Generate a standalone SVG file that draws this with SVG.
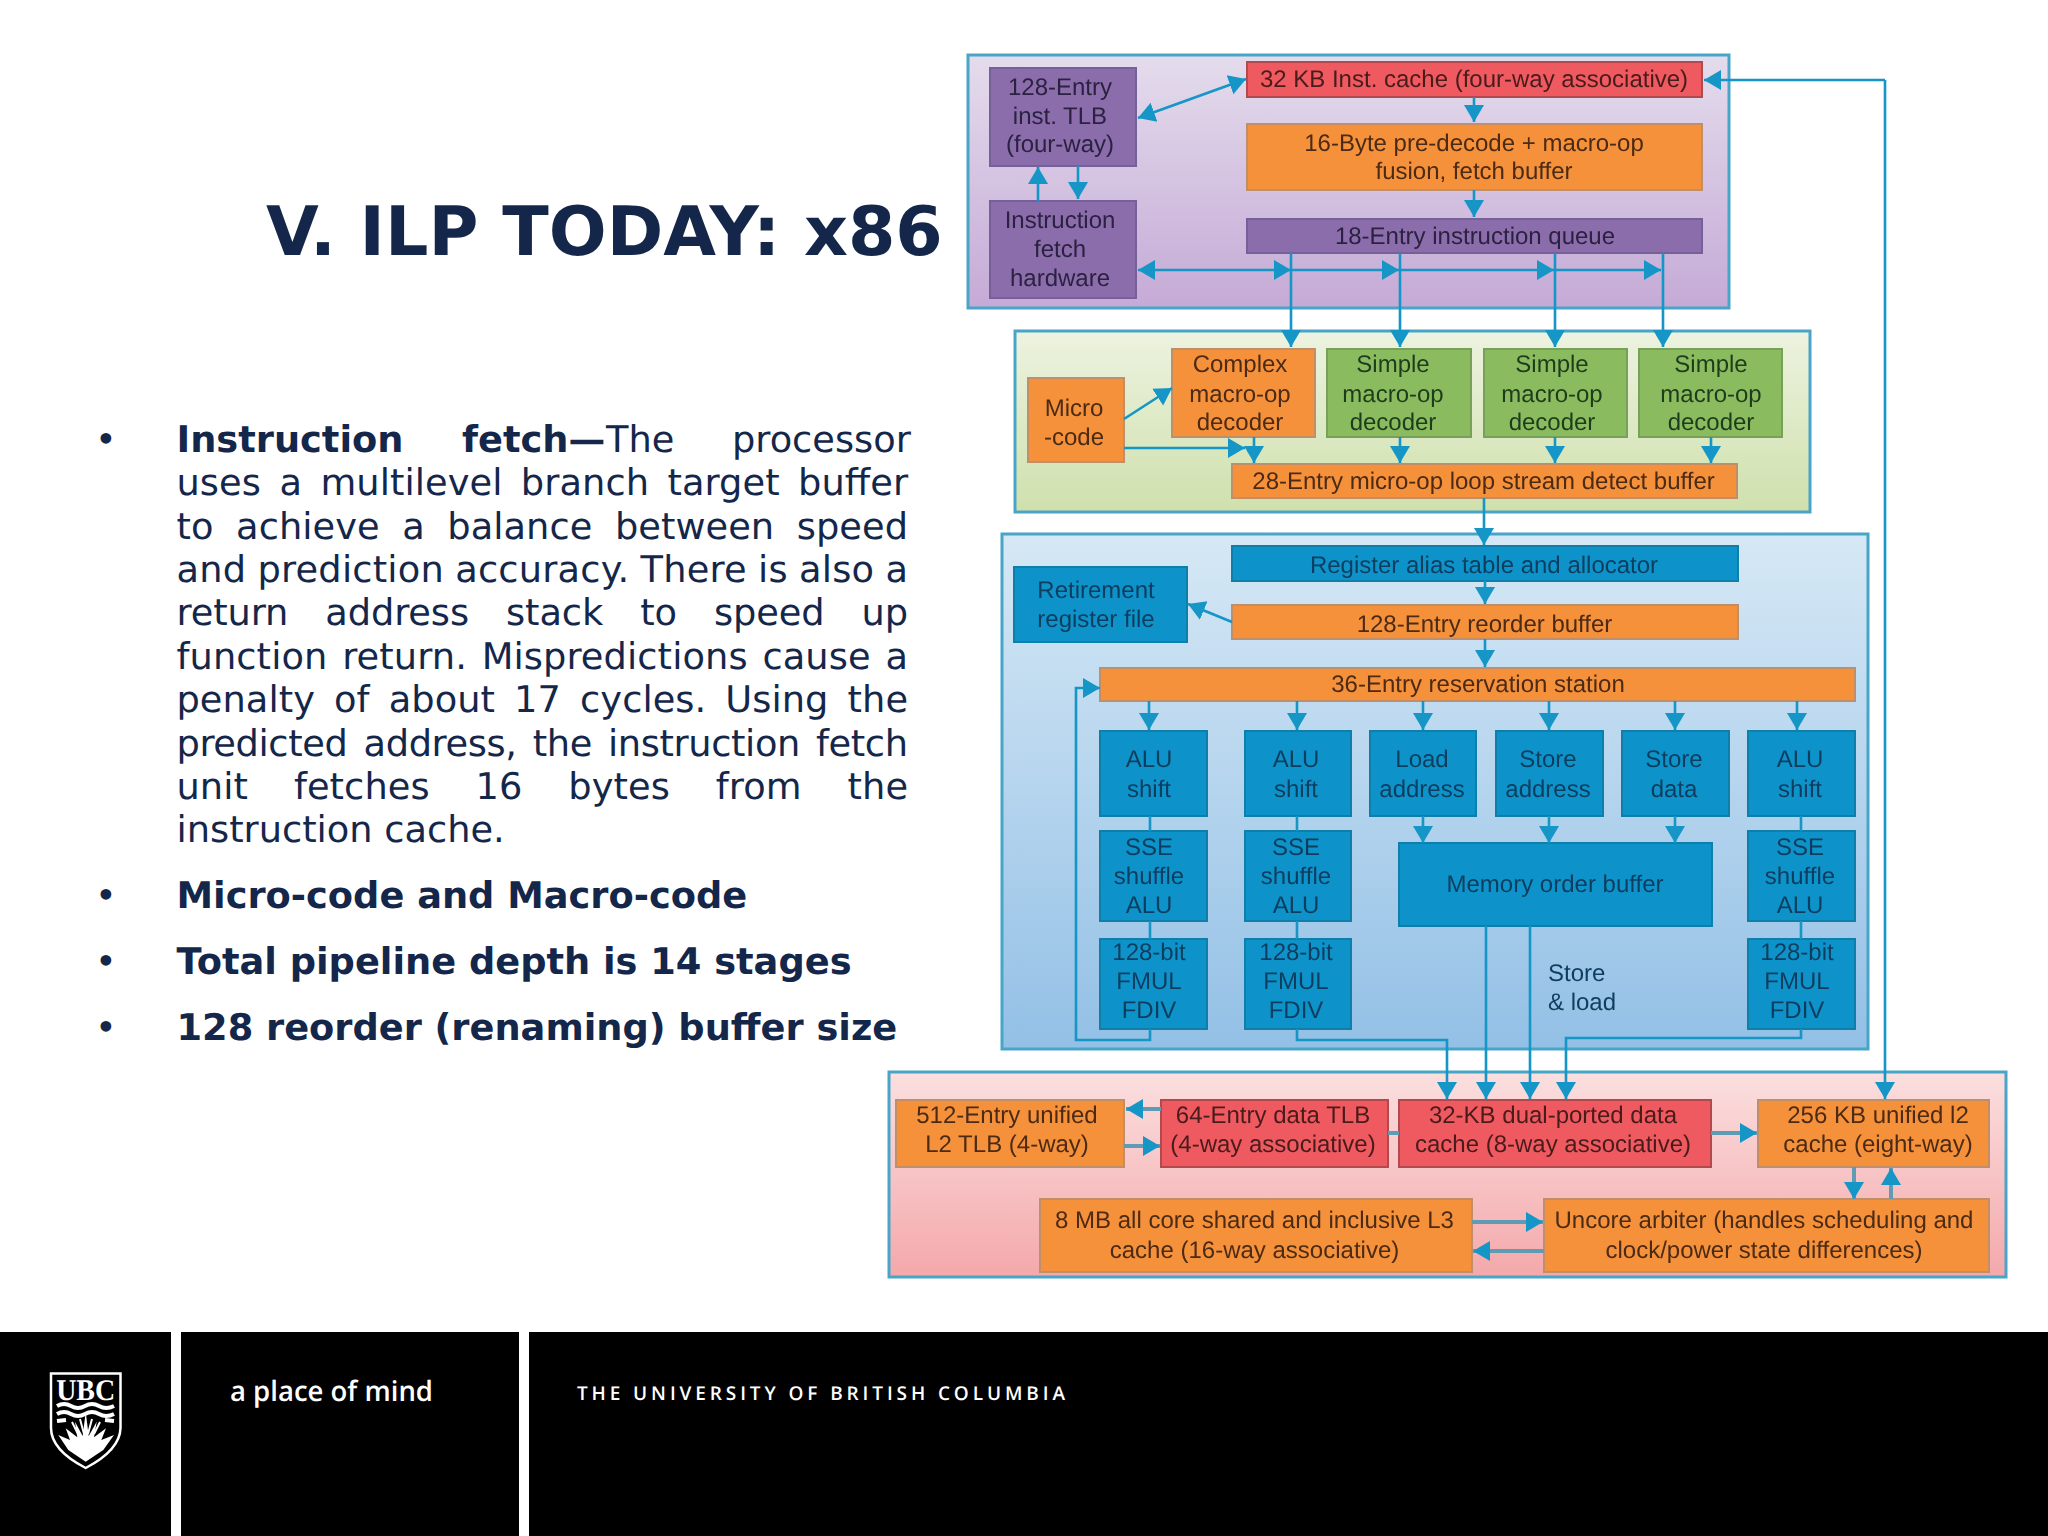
<svg xmlns="http://www.w3.org/2000/svg" width="2048" height="1536" viewBox="0 0 2048 1536">
<style>
text{text-rendering:geometricPrecision}
.grp{stroke:#48a5c8;stroke-width:3}
.b{stroke-width:2}
.o{fill:#f6913a;stroke:#c08e68}
.r{fill:#ee5a5e;stroke:#b2484f}
.p{fill:#8c6dac;stroke:#75609a}
.g{fill:#8bbb5e;stroke:#78a05a}
.u{fill:#0a93c9;stroke:#0f7fa8}
.t{font-family:"Liberation Sans",Arial,sans-serif;font-size:24px;text-anchor:middle}
.to{fill:#4b2a14}.tr{fill:#4a1a1e}.tp{fill:#2a2140}.tg{fill:#1f3d1c}.tu{fill:#0f3d5e}
.l{text-anchor:start}
.c{fill:none;stroke:#1296c6;stroke-width:2.6}
.d{fill:none;stroke:#5f9cb4;stroke-width:4}
.body{font-family:"DejaVu Sans",sans-serif;font-size:36.75px;fill:#14274a}
.bold{font-weight:bold}
</style>
<defs>
<linearGradient id="g1" x1="0" y1="0" x2="0" y2="1"><stop offset="0" stop-color="#e4dcec"/><stop offset="1" stop-color="#c5aad6"/></linearGradient>
<linearGradient id="g2" x1="0" y1="0" x2="0" y2="1"><stop offset="0" stop-color="#edf3e0"/><stop offset="1" stop-color="#cfe0ac"/></linearGradient>
<linearGradient id="g3" x1="0" y1="0" x2="0" y2="1"><stop offset="0" stop-color="#d6e8f5"/><stop offset="1" stop-color="#93c0e6"/></linearGradient>
<linearGradient id="g4" x1="0" y1="0" x2="0" y2="1"><stop offset="0" stop-color="#fbdfdf"/><stop offset="1" stop-color="#f4a8ab"/></linearGradient>
<marker id="a" markerUnits="userSpaceOnUse" markerWidth="18" markerHeight="22" refX="17" refY="11" orient="auto-start-reverse"><path d="M0,1 L17,11 L0,21 Z" fill="#1296c6"/></marker>
<filter id="soft" filterUnits="userSpaceOnUse" x="860" y="30" width="1180" height="1270"><feGaussianBlur stdDeviation="0.6"/></filter>
</defs>
<rect width="2048" height="1536" fill="#fff"/>

<g id="title"><text x="266" y="255" font-family="DejaVu Sans,sans-serif" font-weight="bold" font-size="68.2" fill="#14274a">V. ILP TODAY: x86</text></g>

<g id="bullets" class="body">
<text x="95" y="452">•</text>
<text x="176.5" y="452"><tspan class="bold">Instruction</tspan><tspan class="bold" x="462">fetch—</tspan><tspan x="606">The</tspan><tspan x="732">processor</tspan></text>
<text x="176.5" y="495" word-spacing="6.64" textLength="731.5">uses a multilevel branch target buffer</text>
<text x="176.5" y="539" word-spacing="10.86" textLength="731.5">to achieve a balance between speed</text>
<text x="176.5" y="582" word-spacing="-0.7" textLength="731.5">and prediction accuracy. There is also a</text>
<text x="176.5" y="625" word-spacing="25.5" textLength="731.5">return address stack to speed up</text>
<text x="176.5" y="669" word-spacing="3" textLength="731.5">function return. Mispredictions cause a</text>
<text x="176.5" y="712" word-spacing="7.4" textLength="731.5">penalty of about 17 cycles. Using the</text>
<text x="176.5" y="756" word-spacing="4.85" textLength="731.5">predicted address, the instruction fetch</text>
<text x="176.5" y="799" word-spacing="34.1" textLength="731.5">unit fetches 16 bytes from the</text>
<text x="176.5" y="842">instruction cache.</text>
<text x="95" y="908">•</text>
<text x="176.5" y="908" class="bold">Micro-code and Macro-code</text>
<text x="95" y="974">•</text>
<text x="176.5" y="974" class="bold">Total pipeline depth is 14 stages</text>
<text x="95" y="1040">•</text>
<text x="176.5" y="1040" class="bold">128 reorder (renaming) buffer size</text>
</g>

<g id="diagram" filter="url(#soft)">
<g id="group-fetch"><rect class="grp" x="968" y="55" width="761" height="253" fill="url(#g1)"/></g>
<g id="group-decode"><rect class="grp" x="1015" y="331" width="795" height="181" fill="url(#g2)"/></g>
<g id="group-exec"><rect class="grp" x="1002" y="534" width="866" height="515" fill="url(#g3)"/></g>
<g id="group-memory"><rect class="grp" x="889" y="1072" width="1117" height="205" fill="url(#g4)"/></g>

<g id="n-tlb"><rect class="b p" x="990" y="68" width="146" height="98"/><text class="t tp"><tspan x="1060" y="95">128-Entry</tspan><tspan x="1060" y="123.5">inst. TLB</tspan><tspan x="1060" y="152">(four-way)</tspan></text></g>
<g id="n-ifetch"><rect class="b p" x="990" y="201" width="146" height="97"/><text class="t tp"><tspan x="1060" y="228">Instruction</tspan><tspan x="1060" y="257">fetch</tspan><tspan x="1060" y="286">hardware</tspan></text></g>
<g id="n-icache"><rect class="b r" x="1247" y="62" width="455" height="35"/><text class="t tr" x="1474" y="87">32 KB Inst. cache (four-way associative)</text></g>
<g id="n-predecode"><rect class="b o" x="1247" y="124" width="455" height="66"/><text class="t to"><tspan x="1474" y="151">16-Byte pre-decode + macro-op</tspan><tspan x="1474" y="179">fusion, fetch buffer</tspan></text></g>
<g id="n-iqueue"><rect class="b p" x="1247" y="219" width="455" height="34"/><text class="t tp" x="1475" y="244">18-Entry instruction queue</text></g>

<g id="n-complex"><rect class="b o" x="1172" y="349" width="143" height="88"/><text class="t to"><tspan x="1240" y="372">Complex</tspan><tspan x="1240" y="402">macro-op</tspan><tspan x="1240" y="430">decoder</tspan></text></g>
<g id="n-simple1"><rect class="b g" x="1327" y="349" width="144" height="88"/><text class="t tg"><tspan x="1393" y="372">Simple</tspan><tspan x="1393" y="402">macro-op</tspan><tspan x="1393" y="430">decoder</tspan></text></g>
<g id="n-simple2"><rect class="b g" x="1484" y="349" width="143" height="88"/><text class="t tg"><tspan x="1552" y="372">Simple</tspan><tspan x="1552" y="402">macro-op</tspan><tspan x="1552" y="430">decoder</tspan></text></g>
<g id="n-simple3"><rect class="b g" x="1639" y="349" width="143" height="88"/><text class="t tg"><tspan x="1711" y="372">Simple</tspan><tspan x="1711" y="402">macro-op</tspan><tspan x="1711" y="430">decoder</tspan></text></g>
<g id="n-microcode"><rect class="b o" x="1028" y="378" width="96" height="84"/><text class="t to"><tspan x="1074" y="416">Micro</tspan><tspan x="1074" y="445">-code</tspan></text></g>
<g id="n-loop"><rect class="b o" x="1232" y="464" width="505" height="34"/><text class="t to" x="1483.5" y="489">28-Entry micro-op loop stream detect buffer</text></g>

<g id="n-rat"><rect class="b u" x="1232" y="546" width="506" height="35"/><text class="t tu" x="1484" y="573">Register alias table and allocator</text></g>
<g id="n-retire"><rect class="b u" x="1014" y="567" width="173" height="75"/><text class="t tu"><tspan x="1096" y="598">Retirement</tspan><tspan x="1096" y="627">register file</tspan></text></g>
<g id="n-rob"><rect class="b o" x="1232" y="605" width="506" height="34"/><text class="t to" x="1484.5" y="632">128-Entry reorder buffer</text></g>
<g id="n-rs"><rect class="b o" x="1100" y="668" width="755" height="33"/><text class="t to" x="1478" y="692">36-Entry reservation station</text></g>

<g id="n-alu1"><rect class="b u" x="1100" y="731" width="107" height="85"/><text class="t tu"><tspan x="1149" y="767">ALU</tspan><tspan x="1149" y="797">shift</tspan></text></g>
<g id="n-alu2"><rect class="b u" x="1245" y="731" width="106" height="85"/><text class="t tu"><tspan x="1296" y="767">ALU</tspan><tspan x="1296" y="797">shift</tspan></text></g>
<g id="n-load"><rect class="b u" x="1370" y="731" width="106" height="85"/><text class="t tu"><tspan x="1422" y="767">Load</tspan><tspan x="1422" y="797">address</tspan></text></g>
<g id="n-storeaddr"><rect class="b u" x="1496" y="731" width="107" height="85"/><text class="t tu"><tspan x="1548" y="767">Store</tspan><tspan x="1548" y="797">address</tspan></text></g>
<g id="n-storedata"><rect class="b u" x="1622" y="731" width="107" height="85"/><text class="t tu"><tspan x="1674" y="767">Store</tspan><tspan x="1674" y="797">data</tspan></text></g>
<g id="n-alu3"><rect class="b u" x="1748" y="731" width="107" height="85"/><text class="t tu"><tspan x="1800" y="767">ALU</tspan><tspan x="1800" y="797">shift</tspan></text></g>

<g id="n-sse1"><rect class="b u" x="1100" y="831" width="107" height="90"/><text class="t tu"><tspan x="1149" y="855">SSE</tspan><tspan x="1149" y="884">shuffle</tspan><tspan x="1149" y="913">ALU</tspan></text></g>
<g id="n-sse2"><rect class="b u" x="1245" y="831" width="106" height="90"/><text class="t tu"><tspan x="1296" y="855">SSE</tspan><tspan x="1296" y="884">shuffle</tspan><tspan x="1296" y="913">ALU</tspan></text></g>
<g id="n-sse3"><rect class="b u" x="1748" y="831" width="107" height="90"/><text class="t tu"><tspan x="1800" y="855">SSE</tspan><tspan x="1800" y="884">shuffle</tspan><tspan x="1800" y="913">ALU</tspan></text></g>
<g id="n-fmul1"><rect class="b u" x="1100" y="939" width="107" height="90"/><text class="t tu"><tspan x="1149" y="960">128-bit</tspan><tspan x="1149" y="989">FMUL</tspan><tspan x="1149" y="1018">FDIV</tspan></text></g>
<g id="n-fmul2"><rect class="b u" x="1245" y="939" width="106" height="90"/><text class="t tu"><tspan x="1296" y="960">128-bit</tspan><tspan x="1296" y="989">FMUL</tspan><tspan x="1296" y="1018">FDIV</tspan></text></g>
<g id="n-fmul3"><rect class="b u" x="1748" y="939" width="107" height="90"/><text class="t tu"><tspan x="1797" y="960">128-bit</tspan><tspan x="1797" y="989">FMUL</tspan><tspan x="1797" y="1018">FDIV</tspan></text></g>
<g id="n-mob"><rect class="b u" x="1399" y="843" width="313" height="83"/><text class="t tu" x="1555" y="892">Memory order buffer</text></g>
<g id="l-storeload"><text class="t tu l"><tspan x="1548" y="981">Store</tspan><tspan x="1548" y="1010">&amp; load</tspan></text></g>

<g id="n-l2tlb"><rect class="b o" x="896" y="1100" width="228" height="67"/><text class="t to"><tspan x="1007" y="1123">512-Entry unified</tspan><tspan x="1007" y="1152">L2 TLB (4-way)</tspan></text></g>
<g id="n-dtlb"><rect class="b r" x="1161" y="1100" width="227" height="67"/><text class="t tr"><tspan x="1273" y="1123">64-Entry data TLB</tspan><tspan x="1273" y="1152">(4-way associative)</tspan></text></g>
<g id="n-dcache"><rect class="b r" x="1399" y="1100" width="312" height="67"/><text class="t tr"><tspan x="1553" y="1123">32-KB dual-ported data</tspan><tspan x="1553" y="1152">cache (8-way associative)</tspan></text></g>
<g id="n-l2"><rect class="b o" x="1758" y="1100" width="231" height="67"/><text class="t to"><tspan x="1878" y="1123">256 KB unified l2</tspan><tspan x="1878" y="1152">cache (eight-way)</tspan></text></g>
<g id="n-l3"><rect class="b o" x="1040" y="1199" width="432" height="73"/><text class="t to"><tspan x="1254.5" y="1228">8 MB all core shared and inclusive L3</tspan><tspan x="1254.5" y="1258">cache (16-way associative)</tspan></text></g>
<g id="n-uncore"><rect class="b o" x="1544" y="1199" width="445" height="73"/><text class="t to"><tspan x="1764" y="1228">Uncore arbiter (handles scheduling and</tspan><tspan x="1764" y="1258">clock/power state differences)</tspan></text></g>

<g id="connectors">
<path class="c" marker-end="url(#a)" d="M1885,80H1704"/>
<path class="c" marker-end="url(#a)" d="M1885,80V1099"/>
<path class="c" marker-start="url(#a)" marker-end="url(#a)" d="M1138,118L1246,79"/>
<path class="c" marker-end="url(#a)" d="M1474,97V122"/>
<path class="c" marker-end="url(#a)" d="M1474,190V217"/>
<path class="c" marker-end="url(#a)" d="M1038,201V167"/>
<path class="c" marker-end="url(#a)" d="M1078,166V199"/>
<path class="c" marker-start="url(#a)" marker-end="url(#a)" d="M1138,270H1291"/>
<path class="c" marker-end="url(#a)" d="M1291,270H1399"/>
<path class="c" marker-end="url(#a)" d="M1399,270H1554"/>
<path class="c" marker-end="url(#a)" d="M1554,270H1661"/>
<path class="c" marker-end="url(#a)" d="M1291,253V347"/>
<path class="c" marker-end="url(#a)" d="M1400,253V347"/>
<path class="c" marker-end="url(#a)" d="M1555,253V347"/>
<path class="c" marker-end="url(#a)" d="M1663,253V347"/>
<path class="c" marker-end="url(#a)" d="M1124,419L1172,388"/>
<path class="c" marker-end="url(#a)" d="M1124,448H1245"/>
<path class="c" marker-end="url(#a)" d="M1254,437V463"/>
<path class="c" marker-end="url(#a)" d="M1400,437V463"/>
<path class="c" marker-end="url(#a)" d="M1555,437V463"/>
<path class="c" marker-end="url(#a)" d="M1711,437V463"/>
<path class="c" marker-end="url(#a)" d="M1484,498V545"/>
<path class="c" marker-end="url(#a)" d="M1485,581V604"/>
<path class="c" marker-end="url(#a)" d="M1232,622L1188,604"/>
<path class="c" marker-end="url(#a)" d="M1485,639V667"/>
<path class="c" marker-end="url(#a)" d="M1149,701V730"/>
<path class="c" marker-end="url(#a)" d="M1297,701V730"/>
<path class="c" marker-end="url(#a)" d="M1423,701V730"/>
<path class="c" marker-end="url(#a)" d="M1549,701V730"/>
<path class="c" marker-end="url(#a)" d="M1675,701V730"/>
<path class="c" marker-end="url(#a)" d="M1797,701V730"/>
<path class="c" marker-end="url(#a)" d="M1423,816V843"/>
<path class="c" marker-end="url(#a)" d="M1549,816V843"/>
<path class="c" marker-end="url(#a)" d="M1675,816V843"/>
<path class="c" d="M1150,816V831M1297,816V831M1801,816V831M1150,921V939M1297,921V939M1801,921V939"/>
<path class="c" marker-end="url(#a)" d="M1150,1029V1040H1076V688H1100"/>
<path class="c" marker-end="url(#a)" d="M1297,1029V1040H1447V1099"/>
<path class="c" marker-end="url(#a)" d="M1801,1029V1038H1566V1099"/>
<path class="c" marker-end="url(#a)" d="M1486,926V1099"/>
<path class="c" marker-end="url(#a)" d="M1530,926V1099"/>
<path class="d" marker-end="url(#a)" d="M1161,1109H1126"/>
<path class="d" marker-end="url(#a)" d="M1124,1146H1160"/>
<path class="d" d="M1388,1133H1399"/>
<path class="d" marker-end="url(#a)" d="M1711,1133H1757"/>
<path class="d" marker-end="url(#a)" d="M1854,1167V1199"/>
<path class="d" marker-end="url(#a)" d="M1891,1199V1168"/>
<path class="d" marker-end="url(#a)" d="M1472,1222H1543"/>
<path class="d" marker-end="url(#a)" d="M1544,1251H1473"/>
</g>
</g>

<g id="footer">
<rect x="0" y="1332" width="171" height="204" fill="#000"/>
<rect x="181" y="1332" width="338" height="204" fill="#000"/>
<rect x="529" y="1332" width="1519" height="204" fill="#000"/>
<path d="M51,1373.5H120.5V1428Q120,1450 85.7,1468Q51,1450 51,1428Z" fill="#000" stroke="#fff" stroke-width="2.5"/>
<text x="85.7" y="1400" font-family="Liberation Serif,serif" font-size="30" font-weight="bold" fill="#fff" text-anchor="middle" textLength="59" lengthAdjust="spacingAndGlyphs">UBC</text>
<path d="M57,1406q7,-4 14,0t14,0t14,0t15,0M57,1414q7,-4 14,0t14,0t14,0t15,0M57,1421l9,-1M105,1420l9,1" fill="none" stroke="#fff" stroke-width="4"/>
<path d="M72,1422l6,12M80,1419l4,15M92,1419l-4,15M100,1422l-6,12" fill="none" stroke="#fff" stroke-width="2"/>
<path d="M58.3,1435L70,1440L65.7,1428.3L77.3,1437.3L75,1421.7L82.7,1436L85.7,1411.7L88.7,1436L96.7,1421.7L94,1437.3L106,1428.3L101.3,1440L114,1435L103.3,1450L85.7,1461.7L68.3,1450Z" fill="#fff"/>
<text x="230" y="1401" font-family="Open Sans,sans-serif" font-weight="600" font-size="28" fill="#fff" textLength="203" lengthAdjust="spacingAndGlyphs">a place of mind</text>
<text x="577" y="1400" font-family="Open Sans,sans-serif" font-weight="600" font-size="19" fill="#fff" textLength="488">THE UNIVERSITY OF BRITISH COLUMBIA</text>
</g>
</svg>
